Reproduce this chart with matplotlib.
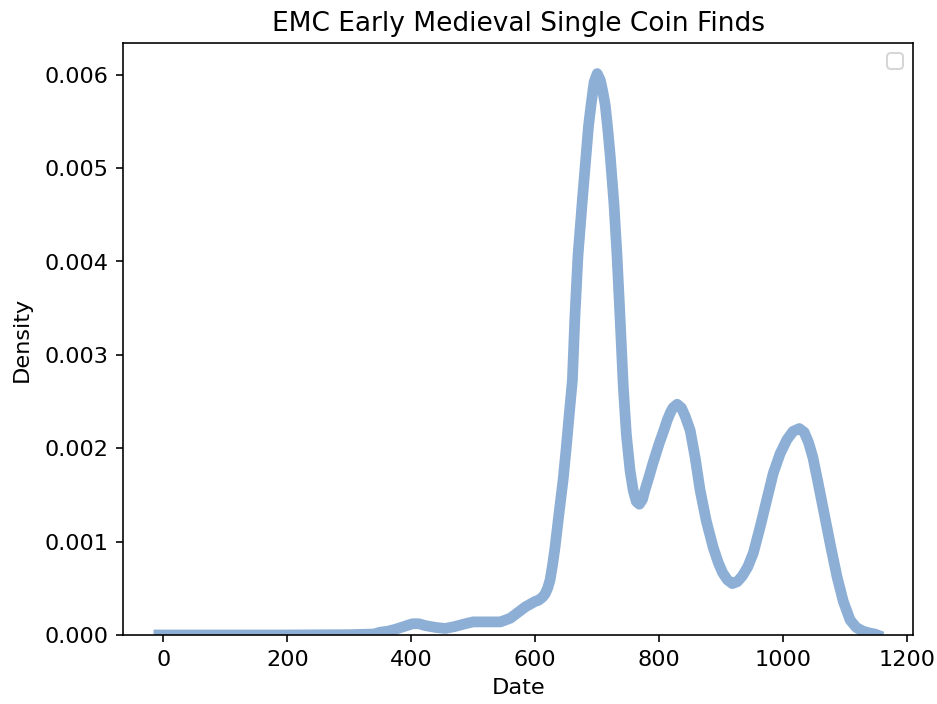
import matplotlib
matplotlib.use("Agg")
import matplotlib.pyplot as plt

# Kernel density estimate of single coin find dates (EMC)
dates = [-7, 100, 200, 300, 340, 350, 362, 374, 388, 402, 412, 423, 440, 455,
         470, 487, 500, 511, 528, 544, 552, 560, 568, 576, 584, 592, 600, 605,
         611, 616, 620, 624, 628, 632, 638, 645, 650, 655, 660, 664, 669, 676,
         682, 686, 690, 695, 700, 705, 709, 713, 717, 721, 727, 732, 737, 742,
         747, 753, 758, 763, 768, 773, 777, 783, 790, 800, 808, 813, 818, 822,
         829, 836, 842, 850, 858, 866, 876, 887, 895, 902, 910, 918, 926, 934,
         943, 952, 963, 974, 984, 995, 1006, 1016, 1026, 1034, 1041, 1048,
         1056, 1065, 1076, 1087, 1097, 1108, 1118, 1129, 1140, 1148, 1152]
density = [0.0, 0.0, 0.0, 0.000003, 0.00001, 0.00003, 0.00004, 0.00006,
           0.00009, 0.00012, 0.00012, 0.00010, 0.00008, 0.00007, 0.00009,
           0.00012, 0.00014, 0.00014, 0.00014, 0.00014, 0.00016, 0.00018,
           0.00022, 0.00026, 0.00030, 0.00033, 0.00036, 0.00037, 0.00040,
           0.00044, 0.00050, 0.00059, 0.00075, 0.00094, 0.00128, 0.00166,
           0.00200, 0.00237, 0.00273, 0.00340, 0.00406, 0.00465, 0.00513,
           0.00545, 0.00567, 0.00592, 0.00601, 0.00594, 0.00582, 0.00567,
           0.00542, 0.00513, 0.00462, 0.00406, 0.00338, 0.00267, 0.00215,
           0.00176, 0.00155, 0.00143, 0.00140, 0.00145, 0.00155, 0.00168,
           0.00184, 0.00205, 0.00220, 0.00230, 0.00238, 0.00243, 0.00247,
           0.00243, 0.00234, 0.00219, 0.00190, 0.00155, 0.00122, 0.00094,
           0.00078, 0.00067, 0.00059, 0.00055, 0.00057, 0.00063, 0.00073,
           0.00088, 0.00116, 0.00146, 0.00173, 0.00194, 0.00209, 0.00218,
           0.00221, 0.00217, 0.00206, 0.00190, 0.00164, 0.00134, 0.00097,
           0.00062, 0.00036, 0.00016, 0.00008, 0.00004, 0.00002, 0.00001, 0.0]

dpi = 146.4
fig = plt.figure(figsize=(937.3 / dpi, 704.3 / dpi), dpi=dpi)
ax = fig.add_axes([123 / 937, (704 - 635) / 704, (913 - 123) / 937, (635 - 43) / 704])

ax.plot(dates, density, color="#8dafd6", linewidth=5.3,
        solid_joinstyle="round")
ax.set_ylim(0, max(density) * 1.055)
ax.margins(x=0.05)

ax.set_title("EMC Early Medieval Single Coin Finds", fontsize=13)
ax.set_xlabel("Date", fontsize=11)
ax.set_ylabel("Density", fontsize=11, labelpad=6.5)
ax.tick_params(labelsize=11)
ax.legend(handles=[], labels=[], loc="upper right")

fig.savefig("out.png", dpi=dpi)
